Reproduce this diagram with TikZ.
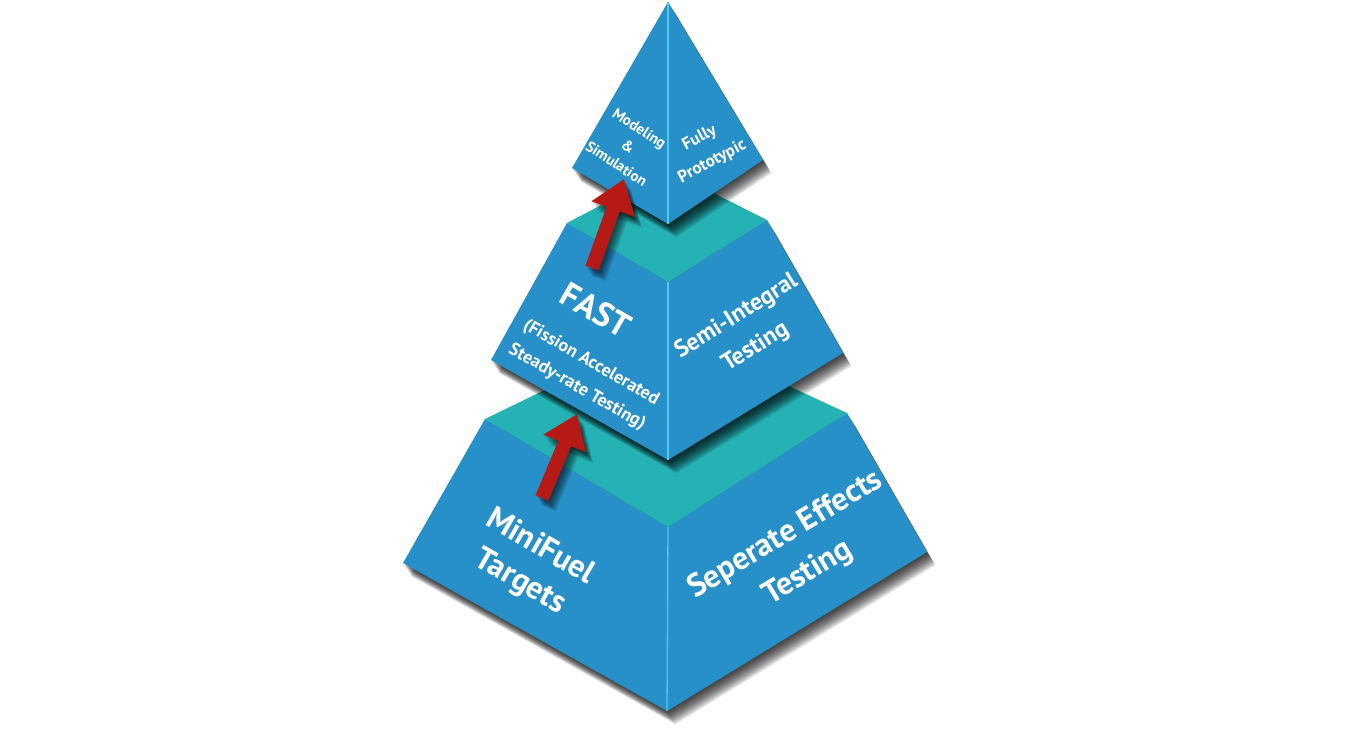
\documentclass[tikz,border=0pt]{standalone}
\usepackage{fontspec}
\setmainfont{PT Sans}
\usetikzlibrary{arrows.meta}
\definecolor{faceblue}{RGB}{40,144,200}
\definecolor{topteal}{RGB}{37,178,180}
\definecolor{edgecyan}{RGB}{80,200,238}
\definecolor{arrowred}{RGB}{182,26,22}
\newcommand{\castshadow}[1]{\foreach \k in {1,...,12}{\begin{scope}[transform canvas={shift={(0.7*\k,1.1*\k)}}]\fill[black,opacity=0.1] #1;\end{scope}}}
\begin{document}
\begin{tikzpicture}[x=1pt,y=-1pt,
  face/.style={fill=faceblue},
  topface/.style={fill=topteal},
  frontedge/.style={draw=edgecyan,line width=1.3pt},
  lbl/.style={text=white,font=\bfseries,align=center,inner sep=0pt},
  bigarrow/.style={draw=arrowred,line width=14pt,-{Triangle[width=44pt,length=32pt]}},
  arrowshade/.style={draw=black,opacity=0.09,line width=14pt,-{Triangle[width=44pt,length=32pt]}}
]
\useasboundingbox (0,0) rectangle (1350,734);
% ---------- corner points ----------
% bottom frustum
\coordinate (bTL) at (485,419);
\coordinate (bTR) at (847,413);
\coordinate (bTF) at (668,527);
\coordinate (bBL) at (403,563);
\coordinate (bBR) at (927,552);
\coordinate (bBF) at (667,711);
% middle frustum
\coordinate (mTL) at (567,223);
\coordinate (mTR) at (767,220);
\coordinate (mTF) at (668,282);
\coordinate (mBL) at (491,360);
\coordinate (mBR) at (843,353);
\coordinate (mBF) at (668,460);
% top pyramid
\coordinate (tA) at (668,2);
\coordinate (tL) at (572,168);
\coordinate (tR) at (763,160);
\coordinate (tF) at (668,224);
% ---------- bottom ----------
\castshadow{(bBL) -- (bTL) -- (bTR) -- (bBR) -- (bBF) -- cycle}
\fill[face] (bTL) -- (bTF) -- (bBF) -- (bBL) -- cycle;
\fill[face] (bTF) -- (bTR) -- (bBR) -- (bBF) -- cycle;
\fill[topface] (bTL) -- (668,330) -- (bTR) -- (bTF) -- cycle;
\draw[frontedge] (bTF) -- (bBF);
% ---------- middle ----------
\castshadow{(mBL) -- (mTL) -- (mTR) -- (mBR) -- (mBF) -- cycle}
\fill[face] (mTL) -- (mTF) -- (mBF) -- (mBL) -- cycle;
\fill[face] (mTF) -- (mTR) -- (mBR) -- (mBF) -- cycle;
\fill[topface] (mTL) -- (668,170) -- (mTR) -- (mTF) -- cycle;
\draw[frontedge] (mTF) -- (mBF);
% ---------- top ----------
\castshadow{(tA) -- (tR) -- (tF) -- (tL) -- cycle}
\fill[face] (tA) -- (tF) -- (tL) -- cycle;
\fill[face] (tA) -- (tR) -- (tF) -- cycle;
\draw[frontedge] (tA) -- (tF);
% ---------- arrows ----------
\coordinate (a1s) at (542,498);
\coordinate (a1e) at (577,414);
\coordinate (a2s) at (592,268);
\coordinate (a2e) at (624,179);
\foreach \k in {1,...,9}{
  \begin{scope}[transform canvas={shift={(0.8*\k,1.2*\k)}}]
  \draw[arrowshade] (a1s) -- (a1e);
  \draw[arrowshade] (a2s) -- (a2e);
  \end{scope}
}
\draw[bigarrow] (a1s) -- (a1e);
\draw[bigarrow] (a2s) -- (a2e);
% ---------- labels ----------
\node[lbl,rotate=-33,font=\bfseries\fontsize{15}{21}\selectfont] (modsim) at (628,146) {Modeling\\\&\\Simulation};
\node[lbl,rotate=28,font=\bfseries\fontsize{17}{27}\selectfont] (proto) at (706,150) {Fully\\Prototypic};
\node[lbl,rotate=-30,font=\bfseries\fontsize{34}{40}\selectfont] (fast) at (596,310) {FAST};
\node[lbl,rotate=-30,font=\bfseries\fontsize{18}{28}\selectfont] (fastsub) at (584,375) {(Fission Accelerated\\Steady-rate Testing)};
\node[lbl,rotate=32,font=\bfseries\fontsize{24}{36}\selectfont] (semi) at (746,332) {Semi-Integral\\Testing};
\node[lbl,rotate=-30,font=\bfseries\fontsize{32}{40}\selectfont] (mini) at (530,565) {MiniFuel\\Targets};
\node[lbl,rotate=31,font=\bfseries\fontsize{32}{44}\selectfont] (sep) at (797,554) {Seperate Effects\\Testing};
\end{tikzpicture}
\end{document}
